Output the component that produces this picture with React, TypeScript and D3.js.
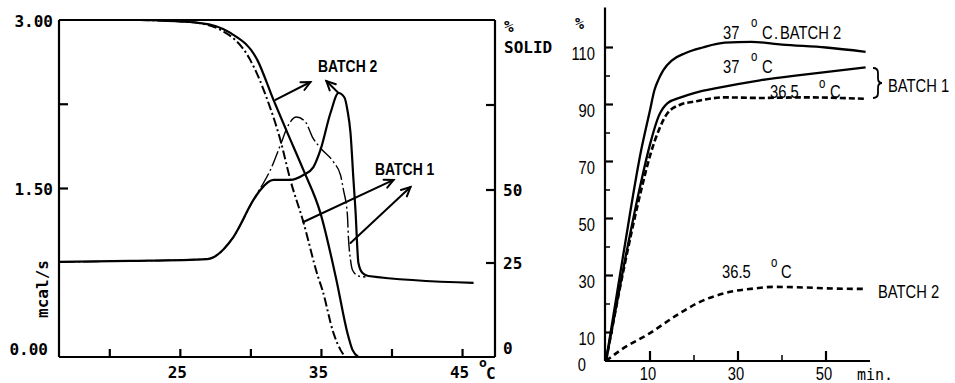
import React from 'react';
import * as d3 from 'd3';

// ---------- Left panel data (temperature °C) ----------
const heatTickValues = [0, 1.5, 3];
const heatTickLabels = ['0.00', '1.50', '3.00'];
const heatMinorTicks = [2.25];
const tempTickValues = [20, 25, 30, 35, 40, 45];
const tempTickLabels = [25, 35, 45];
const pctTickValues = [0, 25, 50, 75];
const pctTickLabels = [0, 25, 50];

// Batch 2 (solid lines)
const b2PctTemp = [22.16, 26.42, 28.55, 30.46, 31.6, 32.59, 33.72, 34.93, 36.06, 36.84, 37.2, 37.62];
const b2Pct = [100, 99.1, 96.2, 88.2, 76.5, 66.8, 55.9, 42.1, 20.5, 6.4, 1.9, 0];
const b2HeatTemp = [16.42, 21.45, 26.91, 28.76, 30.18, 30.67, 31.6, 32.8, 33.72, 34.43, 34.93, 35.64, 36.21, 36.63, 36.84, 37.06, 37.27, 37.41, 37.62, 37.91, 38.33, 45.78];
const b2Heat = [0.846, 0.855, 0.872, 1.068, 1.398, 1.487, 1.576, 1.576, 1.62, 1.691, 1.843, 2.172, 2.35, 2.31, 2.199, 1.994, 1.576, 1.309, 0.837, 0.748, 0.721, 0.659];

// Batch 1 (dash-dot lines)
const b1PctTemp = [22.16, 25.71, 27.84, 29.96, 31.17, 32.09, 32.8, 33.72, 34.72, 35.07, 35.85, 36.35, 36.7];
const b1Pct = [100, 99.4, 97.1, 88.2, 76.5, 64.7, 52.9, 39.0, 21.8, 17.8, 6.4, 1.9, 0];
const b1HeatTemp = [16.42, 21.45, 26.91, 28.76, 30.18, 30.46, 30.89, 31.38, 32.09, 32.66, 33.23, 33.87, 34.36, 34.93, 35.85, 36.35, 36.56, 36.84, 36.91, 37.06, 37.2, 37.62, 38.12];
const b1Heat = [0.846, 0.855, 0.872, 1.068, 1.398, 1.46, 1.549, 1.665, 1.887, 2.065, 2.136, 2.092, 1.958, 1.861, 1.736, 1.62, 1.487, 1.264, 1.068, 0.864, 0.774, 0.721, 0.712];

// Annotation arrows (°C, mcal/s): [fromT, fromV, toT, toV]
const batch2Arrows = [[31.74, 2.288, 34.22, 2.448], [36.21, 2.35, 35.35, 2.457]];
const batch1Arrows = [[33.72, 1.202, 40.11, 1.576], [37.06, 1.015, 41.31, 1.513]];

// ---------- Right panel data (time, min) ----------
const timeMajorTicks = [10, 30, 50];
const timeMinorTicks = [20, 40];
const valMajorTicks = [10, 30, 50, 70, 90, 110];
const valMinorTicks = [20, 40, 60, 80, 100];

const t37b2 = [0, 4, 8, 10, 11, 12, 13, 15, 18, 22, 27, 33, 40, 50, 59];
const v37b2 = [0, 38, 74, 88, 95, 99, 102, 105.5, 108, 110, 111.7, 112, 111, 110, 108.5];
const t37b1 = [0, 4, 8, 10, 12, 14, 17, 20, 26, 35, 45, 59];
const v37b1 = [0, 33, 63, 76, 86, 90.5, 92.5, 94, 96, 98.5, 100.5, 103];
const t365b1 = [0, 4, 8, 10, 12, 14, 17, 20, 27, 35, 45, 59];
const v365b1 = [0, 32, 60, 72, 81, 87, 90, 91, 92.5, 92.3, 92.5, 92];
const t365b2 = [0, 3, 10, 16, 21, 27.5, 34, 38, 45, 52, 58.5];
const v365b2 = [0, 3.5, 9.8, 16, 20.5, 24, 25.5, 26, 25.8, 25.4, 25.3];

const MONO = "'DejaVu Sans Mono', 'Liberation Mono', monospace";
const SANS = "'Liberation Sans', Arial, sans-serif";

function zip(a: number[], b: number[]): [number, number][] {
  return a.map((v, i) => [v, b[i]] as [number, number]);
}

function NT({ x, y, size = 18, anchor = 'start', baseline, bold, children }: any) {
  return (
    <text
      transform={`translate(${x},${y}) scale(0.82,1)`}
      fontFamily={SANS}
      fontSize={size}
      fontWeight={bold ? 'bold' : 'normal'}
      textAnchor={anchor}
      dominantBaseline={baseline}
      fill="#000"
    >
      {children}
    </text>
  );
}

function Arrow({ x1, y1, x2, y2 }: { x1: number; y1: number; x2: number; y2: number }) {
  const ang = Math.atan2(y2 - y1, x2 - x1);
  const L = 10;
  const a1 = ang + Math.PI - 0.45;
  const a2 = ang + Math.PI + 0.45;
  return (
    <g stroke="#000" strokeWidth={2} fill="none" strokeLinecap="round">
      <line x1={x1} y1={y1} x2={x2} y2={y2} />
      <path d={`M${x2 + L * Math.cos(a1)},${y2 + L * Math.sin(a1)} L${x2},${y2} L${x2 + L * Math.cos(a2)},${y2 + L * Math.sin(a2)}`} />
    </g>
  );
}

export default function App() {
  const xL = d3.scaleLinear().domain([16.4, 47.3]).range([59, 495]);
  const yHeat = d3.scaleLinear().domain([0, 3]).range([357, 20]);
  const yPct = d3.scaleLinear().domain([0, 25, 50, 100]).range([357, 263, 190, 20]);
  const xR = d3.scaleLinear().domain([0, 60]).range([606, 870]);
  const yR = d3.scaleLinear().domain([0, 110]).range([361, 47.5]);

  const lineHeat = d3.line<[number, number]>().x(d => xL(d[0])).y(d => yHeat(d[1])).curve(d3.curveMonotoneX);
  const linePct = d3.line<[number, number]>().x(d => xL(d[0])).y(d => yPct(d[1])).curve(d3.curveMonotoneX);
  const lineR = d3.line<[number, number]>().x(d => xR(d[0])).y(d => yR(d[1])).curve(d3.curveMonotoneX);

  const x0 = xL.range()[0], x1 = xL.range()[1];
  const yB = yHeat(0), yT = yHeat(3);

  return (
    <svg width={955} height={383} style={{ position: 'absolute', left: 0, top: 0, background: '#fff' }}>
      {/* ---------- LEFT PANEL ---------- */}
      <g stroke="#000" strokeWidth={2.2} fill="none">
        <line x1={x0} y1={yT} x2={x1} y2={yT} />
        <line x1={x0} y1={yT} x2={x0} y2={yB} />
        <line x1={x1} y1={yT} x2={x1} y2={yB} />
        <line x1={x0} y1={yB} x2={x1} y2={yB} />
        {[...heatTickValues.slice(1, 2), ...heatMinorTicks].map(v => (
          <line key={'hl' + v} x1={x0} y1={yHeat(v)} x2={x0 + 9} y2={yHeat(v)} />
        ))}
        {pctTickValues.slice(1).map(v => (
          <line key={'pt' + v} x1={x1} y1={yPct(v)} x2={x1 - 9} y2={yPct(v)} />
        ))}
        {tempTickValues.map(v => (
          <line key={'tt' + v} x1={xL(v)} y1={yB} x2={xL(v)} y2={yB - 8} />
        ))}
      </g>
      <g fontFamily={MONO} fontWeight="bold" fontSize={16} fill="#000">
        {heatTickValues.map((v, i) => (
          <text key={'hlab' + v} x={v === 0 ? 48 : 53} y={v === 0 ? yHeat(v) - 8 : yHeat(v) + 1} textAnchor="end" dominantBaseline="central">{heatTickLabels[i]}</text>
        ))}
        <text transform="translate(42,289) rotate(-90)" textAnchor="middle" dominantBaseline="central">mcal/s</text>
        {tempTickLabels.map(v => (
          <text key={'tlab' + v} x={xL(v) - 3} y={372} textAnchor="middle" dominantBaseline="central">{v}</text>
        ))}
        <text x={479} y={362} fontSize={13} dominantBaseline="central">o</text>
        <text x={486} y={373} dominantBaseline="central">C</text>
        {pctTickLabels.map(v => (
          <text key={'plab' + v} x={503} y={v === 0 ? yPct(v) - 9 : yPct(v)} dominantBaseline="central">{v}</text>
        ))}
        <text x={504} y={26} dominantBaseline="central">%</text>
        <text x={504} y={47} dominantBaseline="central">SOLID</text>
      </g>
      <NT x={318} y={72} size={17} bold>BATCH 2</NT>
      <NT x={375} y={175} size={17} bold>BATCH 1</NT>
      <g fill="none" stroke="#000">
        <path d={linePct(zip(b2PctTemp, b2Pct)) || ''} strokeWidth={2.2} />
        <path d={linePct(zip(b1PctTemp, b1Pct)) || ''} strokeWidth={2} strokeDasharray="9 3 2 3" />
        <path d={lineHeat(zip(b1HeatTemp, b1Heat)) || ''} strokeWidth={1.4} strokeDasharray="16 3 2 3" />
        <path d={lineHeat(zip(b2HeatTemp, b2Heat)) || ''} strokeWidth={2.2} />
      </g>
      {[...batch2Arrows, ...batch1Arrows].map((a, i) => (
        <Arrow key={'ar' + i} x1={xL(a[0])} y1={yHeat(a[1])} x2={xL(a[2])} y2={yHeat(a[3])} />
      ))}

      {/* ---------- RIGHT PANEL ---------- */}
      <g stroke="#000" strokeWidth={2.2} fill="none">
        <line x1={xR(0) - 1} y1={yR(0)} x2={xR(0) - 1} y2={yR(124)} />
        <line x1={xR(0) - 1} y1={yR(0)} x2={xR(60)} y2={yR(0)} />
        {valMajorTicks.map(v => (
          <line key={'vm' + v} x1={xR(0) - 1} y1={yR(v)} x2={xR(0) + 7} y2={yR(v)} />
        ))}
        {valMinorTicks.map(v => (
          <line key={'vn' + v} x1={xR(0) - 1} y1={yR(v)} x2={xR(0) + 4} y2={yR(v)} strokeWidth={1.5} />
        ))}
        {timeMajorTicks.map(v => (
          <line key={'tm' + v} x1={xR(v)} y1={yR(0)} x2={xR(v)} y2={yR(0) - 10} />
        ))}
        {timeMinorTicks.map(v => (
          <line key={'tn' + v} x1={xR(v)} y1={yR(0)} x2={xR(v)} y2={yR(0) - 6} strokeWidth={1.5} />
        ))}
      </g>
      {valMajorTicks.map(v => (
        <NT key={'vl' + v} x={595} y={yR(v) + 6} size={18} anchor="end" baseline="central">{v}</NT>
      ))}
      <NT x={586} y={364} size={18} anchor="end" baseline="central">0</NT>
      {timeMajorTicks.map(v => (
        <NT key={'tl' + v} x={xR(v) - 2} y={373} size={18} anchor="middle" baseline="central">{v}</NT>
      ))}
      <text x={857} y={375} fontFamily={MONO} fontSize={15} dominantBaseline="central">min.</text>
      <text x={575} y={24} fontFamily={MONO} fontWeight="bold" fontSize={15} dominantBaseline="central">%</text>

      <NT x={723} y={39}>37</NT>
      <NT x={751} y={27} size={14}>o</NT>
      <NT x={762} y={39}>C</NT>
      <NT x={774} y={39}>.</NT>
      <NT x={780} y={39}>BATCH 2</NT>

      <NT x={723} y={73}>37</NT>
      <NT x={751} y={61} size={14}>o</NT>
      <NT x={762} y={73}>C</NT>

      <NT x={770} y={98}>36.5</NT>
      <NT x={819} y={88} size={14}>o</NT>
      <NT x={830} y={98}>C</NT>
      <NT x={888} y={92}>BATCH 1</NT>

      <NT x={722} y={278}>36.5</NT>
      <NT x={771} y={267} size={14}>o</NT>
      <NT x={781} y={278}>C</NT>
      <NT x={878} y={298}>BATCH 2</NT>

      <path d="M873,68 q5,0 5,5 v5 q0,5 4,5 q-4,0 -4,5 v5 q0,5 -5,5" fill="none" stroke="#000" strokeWidth={1.8} />
      <g fill="none" stroke="#000">
        <path d={lineR(zip(t37b2, v37b2)) || ''} strokeWidth={2.3} />
        <path d={lineR(zip(t37b1, v37b1)) || ''} strokeWidth={2.3} />
        <path d={lineR(zip(t365b1, v365b1)) || ''} strokeWidth={2.6} strokeDasharray="6 3" />
        <path d={lineR(zip(t365b2, v365b2)) || ''} strokeWidth={2.6} strokeDasharray="6 4" />
      </g>
    </svg>
  );
}
